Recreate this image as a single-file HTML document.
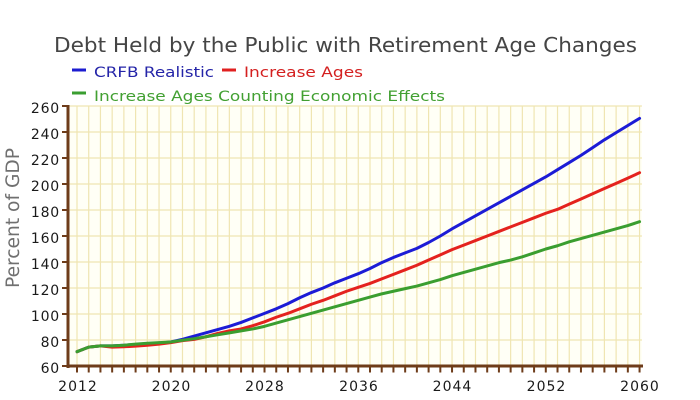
<!DOCTYPE html>
<html>
<head>
<meta charset="utf-8">
<style>
html,body{margin:0;padding:0;background:#ffffff;}
svg{display:block;}
text{font-family:"DejaVu Sans","Liberation Sans",sans-serif;}
</style>
</head>
<body>
<svg width="700" height="400" viewBox="0 0 700 400" xmlns="http://www.w3.org/2000/svg">
  <rect x="0" y="0" width="700" height="400" fill="#ffffff"/>
  <!-- title -->
  <text x="54" y="52" font-size="20" fill="#454545" textLength="583" lengthAdjust="spacingAndGlyphs">Debt Held by the Public with Retirement Age Changes</text>
  <!-- legend -->
  <line x1="72" y1="70" x2="86" y2="70" stroke="#1c1cd0" stroke-width="3"/>
  <text x="94" y="77" font-size="14.5" fill="#2424a8" textLength="120" lengthAdjust="spacingAndGlyphs">CRFB Realistic</text>
  <line x1="222" y1="70" x2="236" y2="70" stroke="#e02020" stroke-width="3"/>
  <text x="244" y="77" font-size="14.5" fill="#d42020" textLength="119" lengthAdjust="spacingAndGlyphs">Increase Ages</text>
  <line x1="72" y1="93" x2="86" y2="93" stroke="#3a9e30" stroke-width="3"/>
  <text x="94" y="101" font-size="14.5" fill="#42a032" textLength="351" lengthAdjust="spacingAndGlyphs">Increase Ages Counting Economic Effects</text>

  <!-- y axis title -->
  <text transform="translate(19,288) rotate(-90)" x="0" y="0" font-size="19" fill="#707070" textLength="140" lengthAdjust="spacingAndGlyphs">Percent of GDP</text>

  <!-- plot background -->
  <rect x="68" y="106" width="574" height="260" fill="#fffff6"/>

  <g transform="translate(77,366) scale(11.72,-1.3)">
    <!-- vertical grid -->
    <path fill="none" stroke="#efe5b2" stroke-width="1.2" vector-effect="non-scaling-stroke"
      d="M0 0V200M1 0V200M2 0V200M3 0V200M4 0V200M5 0V200M6 0V200M7 0V200M8 0V200M9 0V200M10 0V200M11 0V200M12 0V200M13 0V200M14 0V200M15 0V200M16 0V200M17 0V200M18 0V200M19 0V200M20 0V200M21 0V200M22 0V200M23 0V200M24 0V200M25 0V200M26 0V200M27 0V200M28 0V200M29 0V200M30 0V200M31 0V200M32 0V200M33 0V200M34 0V200M35 0V200M36 0V200M37 0V200M38 0V200M39 0V200M40 0V200M41 0V200M42 0V200M43 0V200M44 0V200M45 0V200M46 0V200M47 0V200M48 0V200"/>
    <!-- horizontal grid -->
    <path fill="none" stroke="#efe5b2" stroke-width="1.2" vector-effect="non-scaling-stroke"
      d="M-0.77 20H48.2M-0.77 40H48.2M-0.77 60H48.2M-0.77 80H48.2M-0.77 100H48.2M-0.77 120H48.2M-0.77 140H48.2M-0.77 160H48.2M-0.77 180H48.2M-0.77 200H48.2"/>

    <!-- series -->
    <polyline fill="none" stroke="#1c1cd6" stroke-width="3" stroke-linejoin="round" stroke-linecap="round" vector-effect="non-scaling-stroke"
      points="0,11 1,14.5 2,15.5 3,15.5 4,16 5,16.5 6,17 7,17.5 8,18.5 9,20.5 10,23 11,25.5 12,28 13,30.5 14,33.5 15,37 16,40.5 17,44 18,48 19,52.5 20,56.5 21,60 22,64 23,67.5 24,71 25,75 26,79.5 27,83.5 28,87 29,90.5 30,95 31,100 32,105.5 33,110.5 34,115.5 35,120.5 36,125.5 37,130.5 38,135.5 39,140.5 40,145.5 41,151 42,156.5 43,162 44,168 45,174 46,179.5 47,185 48,190.5"/>
    <polyline fill="none" stroke="#e4221e" stroke-width="3" stroke-linejoin="round" stroke-linecap="round" vector-effect="non-scaling-stroke"
      points="0,11 1,14.5 2,15.5 3,14.5 4,14.8 5,15.3 6,16 7,16.8 8,18 9,19.5 10,20.5 11,22.5 12,25 13,27 14,28.5 15,31 16,34 17,37.5 18,40.5 19,44 20,47.5 21,50.5 22,54 23,57.5 24,60.5 25,63.5 26,67 27,70.5 28,74 29,77.5 30,81.5 31,85.5 32,89.5 33,93 34,96.5 35,100 36,103.5 37,107 38,110.5 39,114 40,117.5 41,120.5 42,124.5 43,128.5 44,132.5 45,136.5 46,140.5 47,144.5 48,148.7"/>
    <polyline fill="none" stroke="#3a9e30" stroke-width="3" stroke-linejoin="round" stroke-linecap="round" vector-effect="non-scaling-stroke"
      points="0,11 1,14.5 2,15.5 3,15.5 4,16 5,16.8 6,17.5 7,18 8,18.5 9,19.8 10,21 11,22.5 12,24 13,25.5 14,27 15,28.5 16,30.5 17,33 18,35.5 19,38 20,40.5 21,43 22,45.5 23,48 24,50.5 25,53 26,55.5 27,57.5 28,59.5 29,61.5 30,64 31,66.5 32,69.5 33,72 34,74.5 35,77 36,79.5 37,81.5 38,84 39,87 40,90 41,92.5 42,95.5 43,98 44,100.5 45,103 46,105.5 47,108 48,111"/>

    <!-- x ticks -->
    <path fill="none" stroke="#6e3c1a" stroke-width="2" vector-effect="non-scaling-stroke"
      d="M0 -1V-5M1 -1V-5M2 -1V-5M3 -1V-5M4 -1V-5M5 -1V-5M6 -1V-5M7 -1V-5M8 -1V-5M9 -1V-5M10 -1V-5M11 -1V-5M12 -1V-5M13 -1V-5M14 -1V-5M15 -1V-5M16 -1V-5M17 -1V-5M18 -1V-5M19 -1V-5M20 -1V-5M21 -1V-5M22 -1V-5M23 -1V-5M24 -1V-5M25 -1V-5M26 -1V-5M27 -1V-5M28 -1V-5M29 -1V-5M30 -1V-5M31 -1V-5M32 -1V-5M33 -1V-5M34 -1V-5M35 -1V-5M36 -1V-5M37 -1V-5M38 -1V-5M39 -1V-5M40 -1V-5M41 -1V-5M42 -1V-5M43 -1V-5M44 -1V-5M45 -1V-5M46 -1V-5M47 -1V-5M48 -1V-5"/>
  </g>

  <!-- axes -->
  <line x1="68" y1="105" x2="68" y2="368" stroke="#6e3c1a" stroke-width="3"/>
  <line x1="67" y1="366" x2="643" y2="366" stroke="#6e3c1a" stroke-width="3"/>
  <!-- y ticks -->
  <path fill="none" stroke="#6e3c1a" stroke-width="2"
    d="M62 106H68M62 132H68M62 158H68M62 184H68M62 210H68M62 236H68M62 262H68M62 288H68M62 314H68M62 340H68M62 366H68"/>

  <!-- y labels -->
  <g font-size="14" fill="#1a1a1a" text-anchor="end" letter-spacing="0.8">
    <text x="60" y="113">260</text>
    <text x="60" y="139">240</text>
    <text x="60" y="165">220</text>
    <text x="60" y="191">200</text>
    <text x="60" y="217">180</text>
    <text x="60" y="243">160</text>
    <text x="60" y="269">140</text>
    <text x="60" y="295">120</text>
    <text x="60" y="321">100</text>
    <text x="60" y="347">80</text>
    <text x="60" y="373">60</text>
  </g>
  <!-- x labels -->
  <g font-size="14" fill="#1a1a1a" text-anchor="middle" letter-spacing="1">
    <text x="78" y="391">2012</text>
    <text x="171.5" y="391">2020</text>
    <text x="265" y="391">2028</text>
    <text x="359" y="391">2036</text>
    <text x="452.5" y="391">2044</text>
    <text x="546.5" y="391">2052</text>
    <text x="640" y="391">2060</text>
  </g>
</svg>
</body>
</html>
